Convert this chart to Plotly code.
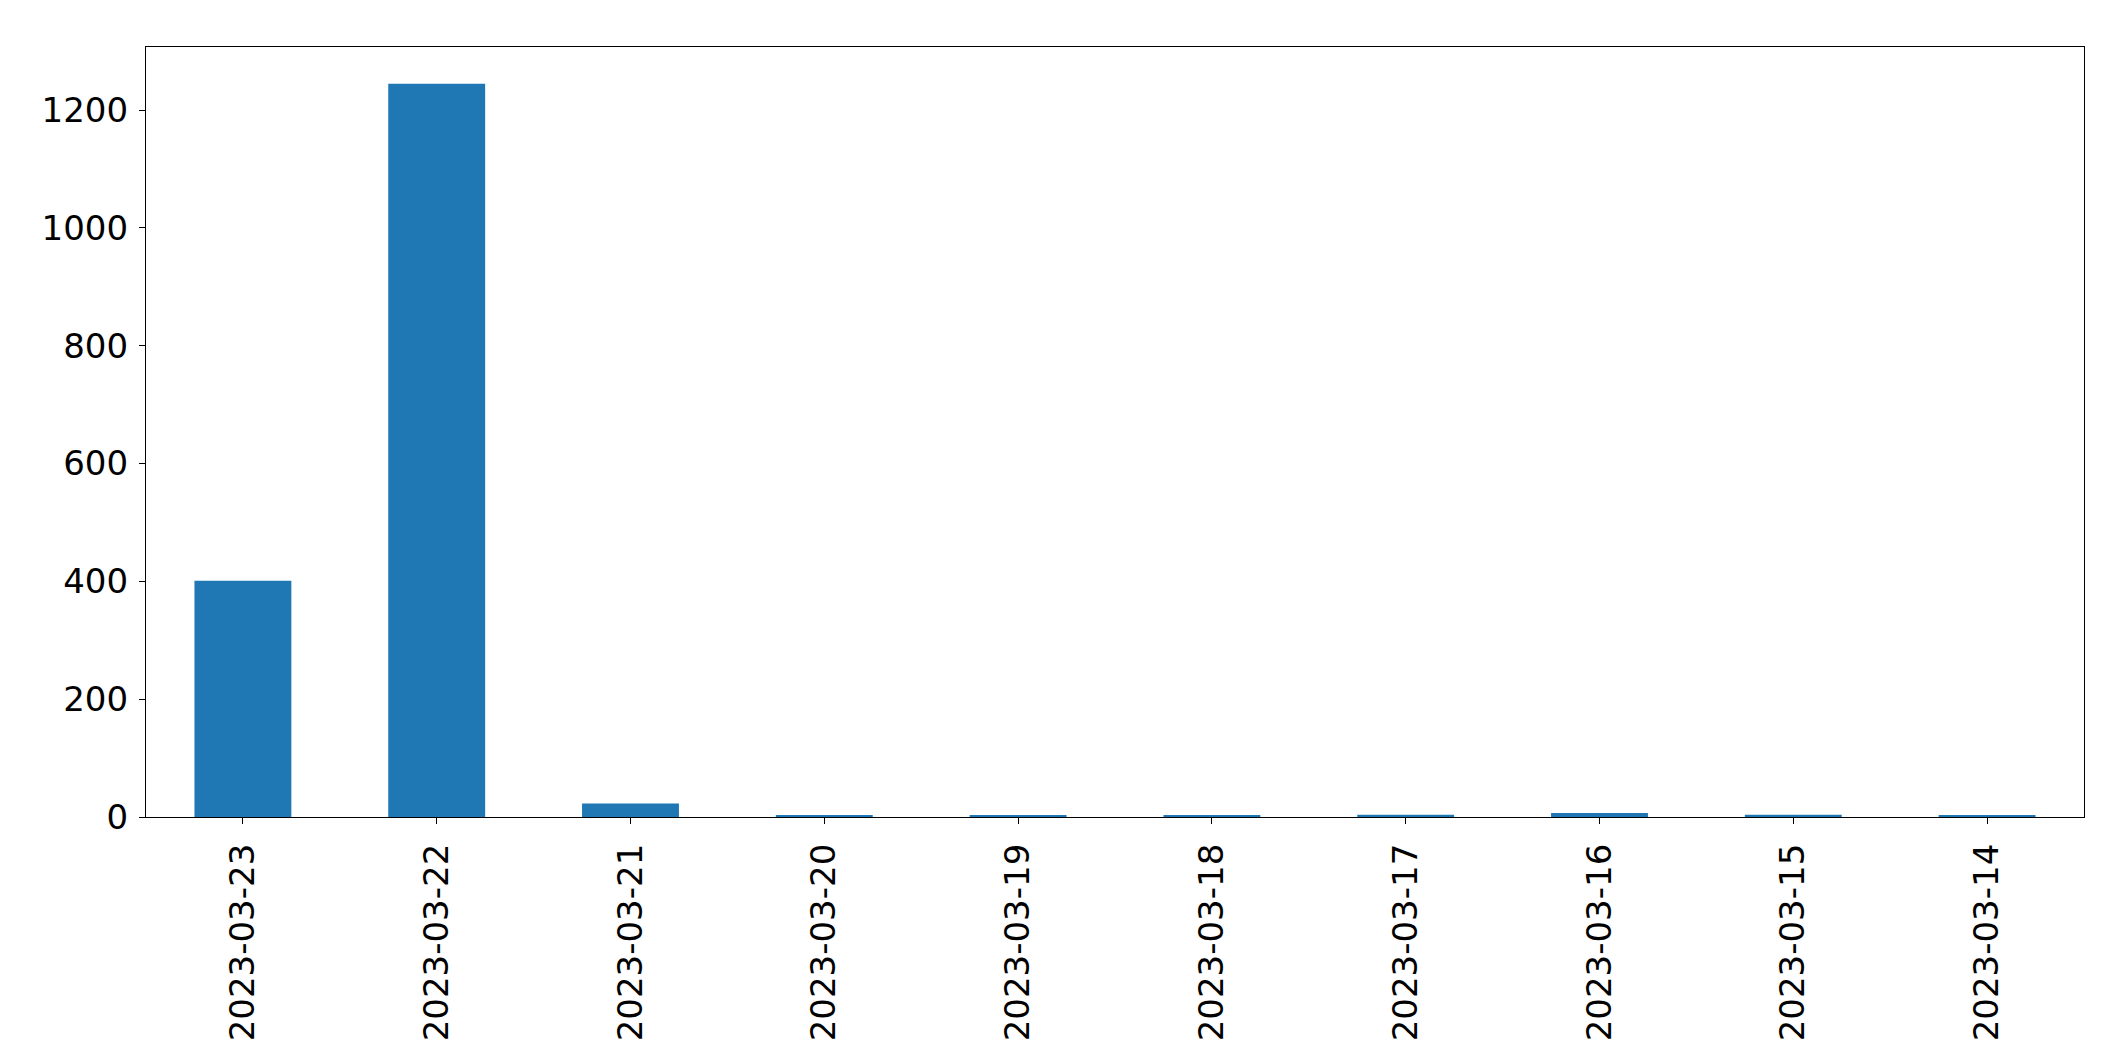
import plotly.graph_objects as go

dates = ["2023-03-23", "2023-03-22", "2023-03-21", "2023-03-20", "2023-03-19",
         "2023-03-18", "2023-03-17", "2023-03-16", "2023-03-15", "2023-03-14"]
counts = [401, 1245, 23, 2, 2, 2, 4, 7, 4, 2]
y_ticks = [0, 200, 400, 600, 800, 1000, 1200]

fig = go.Figure(go.Bar(x=dates, y=counts, width=0.5, marker_color="#1f77b4",
                       marker_line_width=0))

font = dict(family="DejaVu Sans", size=34, color="black")
fig.update_layout(
    width=2115, height=1061,
    margin=dict(l=138, r=39, t=39, b=252),
    plot_bgcolor="white", paper_bgcolor="white",
    showlegend=False, font=font,
)
fig.update_xaxes(type="category", range=[-0.5, 9.5], tickangle=-90,
                 showline=True, linecolor="black", linewidth=1.3, mirror=True,
                 ticks="outside", ticklen=6, tickwidth=1.3, tickcolor="black",
                 showgrid=False, tickfont=font, ticklabelstandoff=6)
fig.update_yaxes(range=[0, max(counts) * 1.05], tickvals=y_ticks,
                 showline=True, linecolor="black", linewidth=1.3, mirror=True,
                 ticks="outside", ticklen=6, tickwidth=1.3, tickcolor="black",
                 showgrid=False, zeroline=False, tickfont=font, ticklabelstandoff=4)
fig.write_html("out.html")
